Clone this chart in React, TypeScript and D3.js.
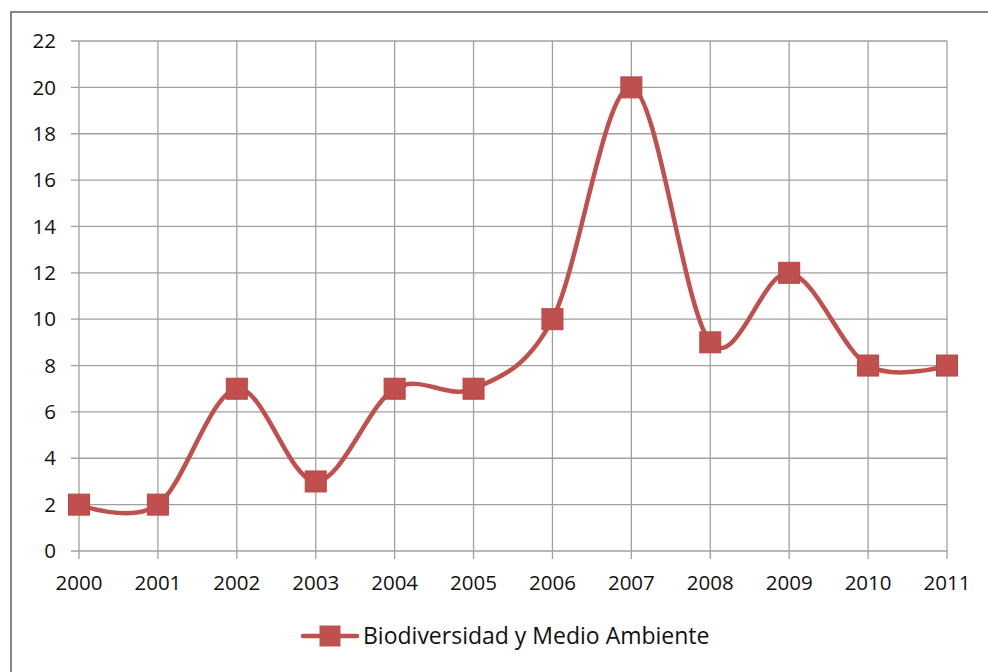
import React, { useRef, useEffect } from 'react'
import * as d3 from 'd3'

const years = ['2000','2001','2002','2003','2004','2005','2006','2007','2008','2009','2010','2011']
const values = [2, 2, 7, 3, 7, 7, 10, 20, 9, 12, 8, 8]
const yTicks = [0, 2, 4, 6, 8, 10, 12, 14, 16, 18, 20, 22]
const seriesName = 'Biodiversidad y Medio Ambiente'

const W = 988
const H = 672
const color = '#c0504d'
const font = '"Open Sans", Calibri, sans-serif'

function App() {
  const svgRef = useRef<SVGSVGElement>(null)

  useEffect(() => {
    const svg = d3.select(svgRef.current)
    svg.selectAll('*').remove()

    // chart frame (extends past the window right/bottom)
    svg.append('rect')
      .attr('x', 11).attr('y', 12)
      .attr('width', W + 20).attr('height', H + 20)
      .attr('fill', '#fff')
      .attr('stroke', '#868686').attr('stroke-width', 2)

    const x = d3.scalePoint().domain(years).range([79, 947])
    const y = d3.scaleLinear().domain([0, 22]).range([551, 41])

    // horizontal grid
    svg.append('g').selectAll('line').data(yTicks).join('line')
      .attr('x1', 71).attr('x2', 947)
      .attr('y1', d => y(d)).attr('y2', d => y(d))
      .attr('stroke', '#a0a0a0').attr('stroke-width', 1.3)

    // vertical grid + ticks
    svg.append('g').selectAll('line').data(years).join('line')
      .attr('x1', d => x(d)!).attr('x2', d => x(d)!)
      .attr('y1', 41).attr('y2', 559)
      .attr('stroke', '#a0a0a0').attr('stroke-width', 1.3)

    // y labels
    svg.append('g').selectAll('text').data(yTicks).join('text')
      .attr('x', 56).attr('y', d => y(d))
      .attr('dy', '0.35em')
      .attr('text-anchor', 'end')
      .attr('font-family', font).attr('font-size', 20.5)
      .attr('fill', '#111')
      .text(d => d)

    // x labels
    svg.append('g').selectAll('text').data(years).join('text')
      .attr('x', d => x(d)!).attr('y', 583)
      .attr('dy', '0.35em')
      .attr('text-anchor', 'middle')
      .attr('font-family', font).attr('font-size', 20.5)
      .attr('fill', '#111')
      .text(d => d)

    const lineGen = d3.line<number>()
      .x((d, i) => x(years[i])!)
      .y(d => y(d))
      .curve(d3.curveCatmullRom.alpha(0))

    svg.append('path')
      .datum(values)
      .attr('d', lineGen)
      .attr('fill', 'none')
      .attr('stroke', color)
      .attr('stroke-width', 4.5)
      .attr('stroke-linecap', 'round')

    const s = 21
    svg.append('g').selectAll('rect').data(values).join('rect')
      .attr('x', (d, i) => x(years[i])! - s / 2)
      .attr('y', d => y(d) - s / 2)
      .attr('width', s).attr('height', s)
      .attr('fill', color)
      .attr('stroke', '#b84845').attr('stroke-width', 1)

    // legend
    const lg = svg.append('g')
    lg.append('line')
      .attr('x1', 303).attr('x2', 357).attr('y1', 636).attr('y2', 636)
      .attr('stroke', color).attr('stroke-width', 4.5).attr('stroke-linecap', 'round')
    lg.append('rect')
      .attr('x', 330 - s / 2).attr('y', 636 - s / 2)
      .attr('width', s).attr('height', s)
      .attr('fill', color)
    lg.append('text')
      .attr('x', 363).attr('y', 636).attr('dy', '0.35em')
      .attr('font-family', font).attr('font-size', 23)
      .attr('fill', '#111')
      .text(seriesName)
  }, [])

  return (
    <svg ref={svgRef} width={W} height={H}
      style={{ position: 'absolute', left: 0, top: 0, background: '#fff' }} />
  )
}

export default App
